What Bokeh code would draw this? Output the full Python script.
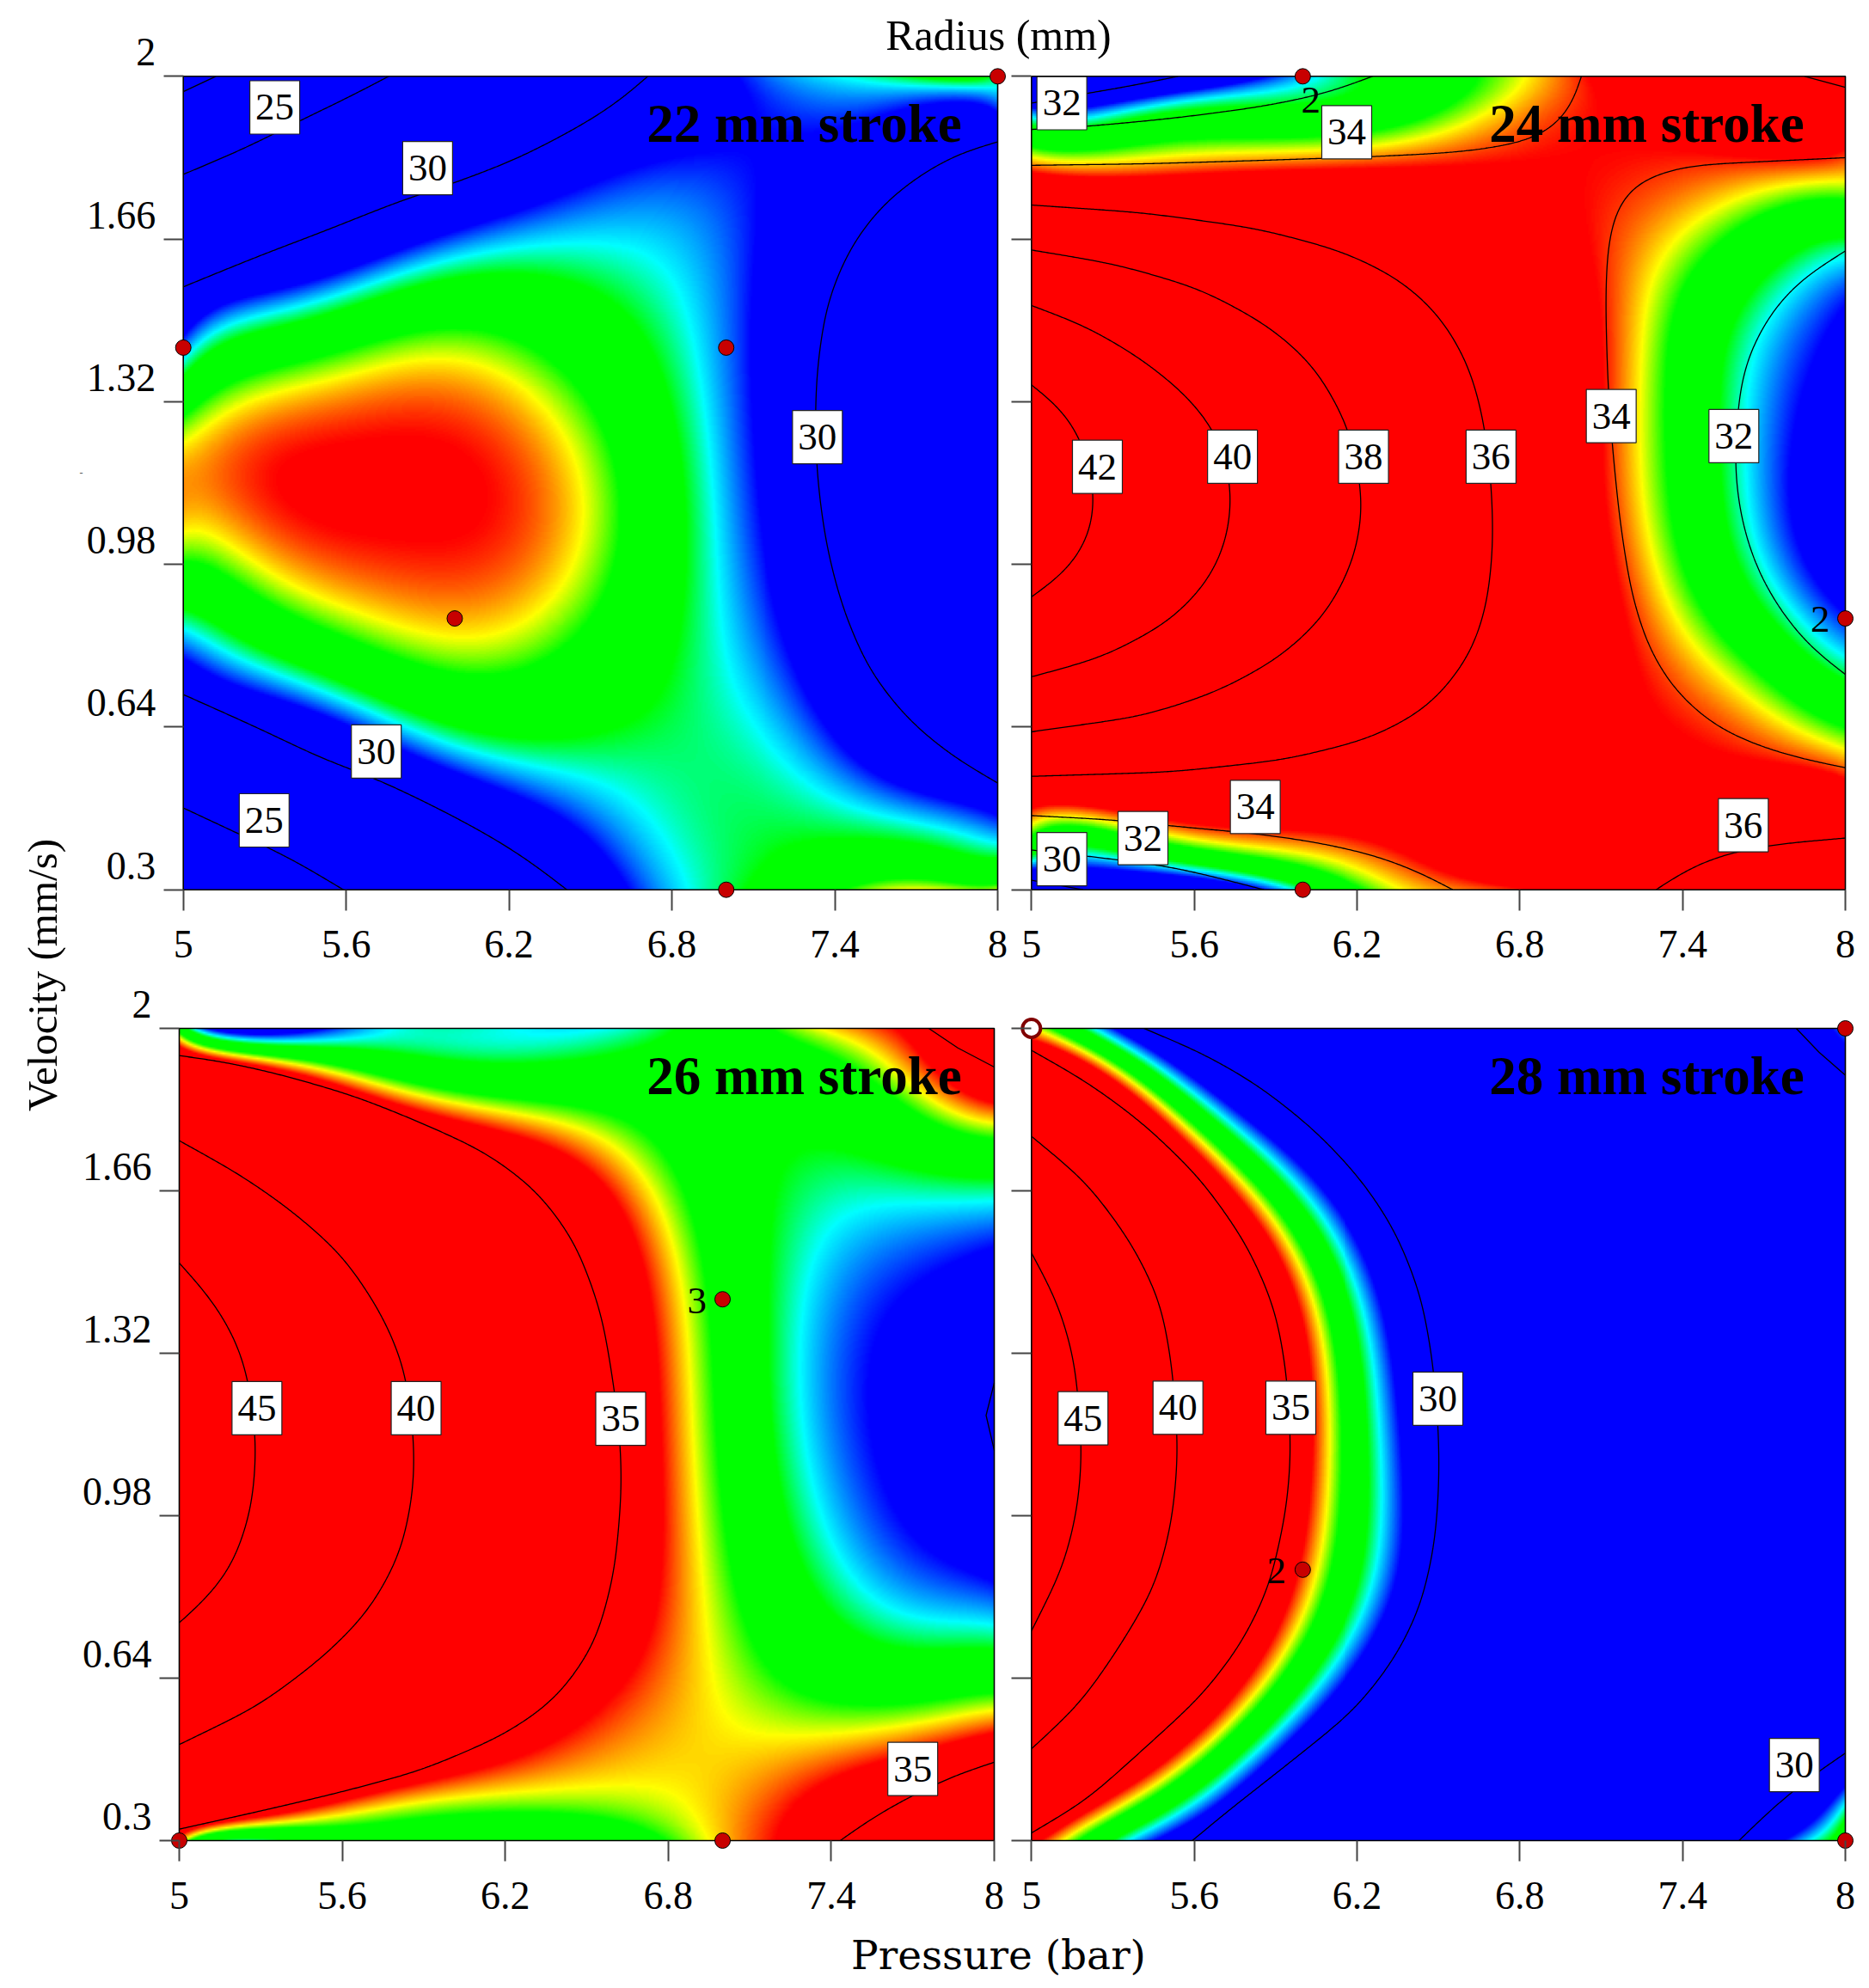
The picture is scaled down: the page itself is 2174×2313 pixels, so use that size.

import numpy as np
from bokeh.plotting import figure
from bokeh.models import LinearAxis, FixedTicker, Range1d, LinearColorMapper
from bokeh.embed import file_html
from bokeh.resources import INLINE
from bokeh.core.properties import value
from numpy.polynomial.legendre import legvander2d

# ---------- axis labels ----------
x_ticks = [5, 5.6, 6.2, 6.8, 7.4, 8]
x_labels = ["5", "5.6", "6.2", "6.8", "7.4", "8"]
y_ticks = [0.3, 0.64, 0.98, 1.32, 1.66, 2]
y_labels = ["0.3", "0.64", "0.98", "1.32", "1.66", "2"]
titles = ["22 mm stroke", "24 mm stroke", "26 mm stroke", "28 mm stroke"]

# ---------- response surfaces (mm), rows bottom to top ----------
grid_x = [5, 5.25, 5.5, 5.75, 6, 6.25, 6.5, 6.75, 7, 7.25, 7.5, 7.75, 8]
uniform_y = [0.3, 0.442, 0.583, 0.725, 0.867, 1.008, 1.15, 1.292, 1.433, 1.575, 1.717, 1.858, 2]

p1_y = uniform_y
p1_z = [
 [21.5,23,24.2,26.2,27.8,29,30.8,31.5,32.2,33,33.4,33.5,33.5],
 [24.5,25.9,27.4,29.1,30.2,31,31.6,32.2,32.3,32.3,32.1,31.95,31.65],
 [27.4,28.4,29.7,31.3,32,32.4,32.6,32.4,32.2,31.7,31,30.3,29.6],
 [30.2,31.6,32.1,32.5,33.1,33,32.85,32.5,32.2,31.5,30.4,29.5,29.2],
 [32.6,33.3,33.75,34,34.05,33.95,33.6,32.9,32.1,31.1,29.7,29,28.7],
 [33.8,34.05,34.3,34.45,34.42,34.1,33.7,32.9,32.1,30.8,29.6,28.8,28.4],
 [33.95,34.1,34.3,34.45,34.45,34.15,33.75,32.9,32,30.5,29.3,28.6,28.2],
 [33.6,33.95,34.1,34.2,34.15,34,33.6,32.8,31.9,30.5,29.2,28.4,28],
 [32,33.2,33.5,33.6,33.7,33.5,33.1,32.6,31.7,30.5,29.2,28.3,27.8],
 [29.7,30.9,31.5,31.9,32.2,32.4,32.4,32.1,31.5,30.9,29.4,28.5,28],
 [26.7,27.7,29,30.2,30.8,31.2,31.4,31.4,31.4,30.9,30.2,29.3,29],
 [23.5,25,26.8,27.9,28.7,29.6,30.4,30.9,31.1,31.1,30.8,30.4,30.05],
 [19.5,21,23,25,26.3,27.5,28.9,30.2,31.5,32,32.1,32.1,32.2],
]

p2_y = [0.3,0.35,0.4,0.442,0.5,0.583,0.725,0.867,1.008,1.15,1.292,1.433,1.575,1.7,1.8,1.85,1.9,1.95,2]
p2_z = [
 [29.4,30.3,30.9,31.7,32.6,33.6,33.9,34.8,35.4,35.9,36.6,37,37.3],
 [31,31.6,32,32.8,33.4,33.9,34.5,35.1,35.5,35.9,36.3,36.5,36.7],
 [32.5,33,33.3,33.7,34,34.4,34.7,35.1,35.4,35.6,35.8,36,36.1],
 [33.7,33.95,34.2,34.2,34.5,34.7,34.9,35.1,35.3,35.4,35.4,35.5,35.6],
 [35.1,35.1,35.2,35.1,35.1,35.1,35,35,35.1,35.1,35.2,35.2,35],
 [37,36.7,36.4,36.1,35.9,35.6,35.3,35.1,34.9,34.7,34.6,34,33.8],
 [39.7,39.3,38.9,38.1,37.4,36.8,35.9,35.3,34.9,34.4,33.6,32.8,32.1],
 [41.5,41,40.1,39.3,38.4,37.5,36.6,35.6,34.8,33.9,33,32.1,31],
 [42.9,41.9,40.8,39.9,38.9,37.9,37,35.8,34.9,33.8,32.8,31.4,30.2],
 [43.2,41.9,40.9,40,38.9,37.9,37,35.9,34.7,33.5,32.6,31.2,30],
 [42.6,41.5,40.4,39.3,38.5,37.7,36.9,35.7,34.6,33.4,32.7,31.4,30.2],
 [41.2,40.5,39.4,38.4,37.9,36.9,36.3,35.3,34.6,33.5,32.7,31.6,30.6],
 [39.1,38.6,38.2,37.3,36.6,36.4,35.6,35,34.5,33.5,32.7,32.1,31.2],
 [36.6,36.4,36.1,35.8,35.6,35.1,34.8,34.6,34.4,33.7,33.2,32.8,32.6],
 [34.3,34.3,34.4,34.4,34.4,34.4,34.5,34.6,34.6,34.2,33.85,33.7,33.5],
 [33.1,33.3,33.4,33.5,33.6,33.7,33.85,34.15,34.4,34.6,34.6,34.6,34.6],
 [31.7,32.1,32.5,32.8,33,33.3,33.5,33.9,34.4,34.8,35,35.2,35.3],
 [29.8,30.4,31.1,31.6,32,32.6,33.1,33.7,34.2,34.7,35.1,35.5,35.9],
 [28.3,29.2,29.9,30.8,31.7,32,32.9,33.6,34,34.8,35.3,35.8,36.4],
]

p3_y = [0.3,0.35,0.4,0.45,0.583,0.725,0.867,1.008,1.15,1.292,1.433,1.575,1.717,1.858,1.93,2]
p3_z = [
 [33.9,33.4,33.1,32.9,32.8,32.8,32.8,33,34,34.7,35.3,36.2,37.2],
 [36,35,34.3,33.8,33.5,33.3,33.4,33.5,34,34.6,35.2,35.8,36.6],
 [37.3,36.2,35.2,34.4,34,33.7,33.7,33.7,33.9,34.4,34.7,35,36],
 [38.5,37.2,36.2,35.4,34.8,34.2,33.9,33.8,33.8,33.95,34.2,34.7,35.2],
 [41.5,40,38.7,37.4,36.4,35.5,34.9,34.4,33.8,33.4,33.4,33.4,33.5],
 [44.5,42.6,40.7,39,37.6,36.4,35.3,34.7,33.9,33,32.3,32.2,32.2],
 [46.5,44.4,42.4,40.6,39,37.5,36,34.9,33.7,32.5,32,31.75,31.2],
 [47.7,45.6,43.4,41.4,39.5,37.9,36.4,34.9,33.5,32.2,31.4,30.6,30.3],
 [48,45.7,43.5,41.4,39.5,37.9,36.3,34.7,33.1,32.1,31.2,30.4,29.9],
 [47.5,45.1,42.8,40.7,39,37.6,36.1,34.6,32.9,32,31.3,30.7,30.3],
 [46,43.3,41.3,39.6,38,36.8,35.4,34.4,32.9,32.2,31.4,30.9,30.7],
 [43.7,41.8,40,38.6,37.1,36,34.8,33.6,32.8,32.2,31.9,31.6,31.6],
 [41,39.6,37.9,36.4,35.6,34.8,34.4,33,32.7,32.5,32.5,32.5,32.5],
 [37.4,36.8,35.6,34.4,33.2,32.9,32.8,32.7,32.8,32.9,33.1,33.6,34.2],
 [35.3,34.6,33.8,33,32.6,32.5,32.5,32.5,32.7,33.1,33.6,34.3,35.2],
 [33.2,32.7,32.4,32,32,32,32,32.4,32.6,33.3,34.2,35,37],
]

p4_y = uniform_y
p4_z = [
 [34.8,32.4,30.5,29,28,27.3,27,26.9,27,27.7,29,30.9,32.6],
 [38.9,35.8,33.2,31.2,29.4,28.1,27.2,26.8,26.6,26.9,27.6,29.1,30.9],
 [41.8,38.8,36.1,33.6,31.7,29.6,28.2,27.2,26.5,26.3,26.6,27.2,28.3],
 [44.8,41.4,38.2,35.3,33.1,31.1,29,27.5,26.5,25.9,25.5,25.5,25.9],
 [46.8,43,40,36.9,34,31.7,29.7,28.2,26.7,25.5,24.6,24.1,24.1],
 [48,43.9,40.4,37.4,34.5,32.1,30,28.2,26.6,25.2,24,23.4,23.4],
 [48.3,44.1,40.5,37.5,34.6,32.1,30,28.2,26.5,25,23.8,23.1,23.2],
 [47.6,43.8,40.2,37.2,34.5,32,29.8,28,26.4,24.9,23.8,23.1,23.3],
 [46.5,43,39.7,36.8,34.1,31.8,29.5,27.7,26,24.6,23.5,23.1,23.6],
 [44.1,41.3,38.3,35.1,32.9,31,28.9,27.1,25.5,24.2,23.5,23.5,24.5],
 [41.2,38.7,35.7,33,31.2,29.2,27.5,25.8,24.5,23.8,23.8,24.5,26.2],
 [37.7,35.3,32.9,30.7,29.2,27.7,26.2,25,24.4,24.5,25.2,26.5,28.9],
 [33.2,31.9,29.5,27.8,26.3,25,24,23.5,23.5,24.5,26.5,29.2,31.8],
]

# ---------- contour lines: (level, pressure list, velocity list) ----------
p1_contours = [
 (20,[5,5.12],[1.968,2]),
 (25,[5,5.23,5.446,5.613,5.757],[1.795,1.85,1.912,1.957,2]),
 (30,[5,5.28,5.518,5.804,5.995,6.234,6.473,6.616,6.711],[1.56,1.625,1.676,1.741,1.776,1.828,1.899,1.951,2]),
 (30,[5,5.28,5.518,5.709,5.947,6.138,6.282,6.413],[0.708,0.637,0.572,0.533,0.468,0.41,0.358,0.3]),
 (25,[5,5.23,5.399,5.59],[0.471,0.41,0.365,0.3]),
 (30,[8,7.857,7.714,7.57,7.451,7.368,7.332,7.327,7.337,7.368,7.427,7.523,7.666,7.833,8],
  [1.863,1.841,1.795,1.731,1.64,1.524,1.381,1.252,1.148,1.019,0.889,0.76,0.656,0.578,0.523]),
]
p2_contours = [
 (30,[5,5.2,5.37,5.54],[1.944,1.964,1.98,2]),
 (32,[5,5.203,5.519,5.835,6.089,6.257],[1.889,1.895,1.912,1.935,1.964,2]),
 (34,[5,5.414,5.835,6.257,6.574,6.785,6.911,6.985,7.017,7.027],[1.814,1.817,1.824,1.832,1.841,1.858,1.88,1.925,1.964,2]),
 (36,[7.85,8],[2,1.977]),
 (34,[8,7.41,7.23,7.167,7.13,7.119,7.116,7.125,7.141,7.167,7.21,7.273,7.368,7.516,7.674,7.833,8],
  [1.83,1.814,1.783,1.747,1.677,1.607,1.518,1.35,1.227,1.077,0.919,0.804,0.716,0.641,0.601,0.574,0.555]),
 (32,[8,7.833,7.727,7.642,7.61,7.59,7.61,7.664,7.748,7.864,8],
  [1.635,1.576,1.51,1.421,1.35,1.192,1.086,0.98,0.892,0.808,0.75]),
 (36,[5,5.414,5.835,6.152,6.363,6.511,6.616,6.669,6.696,6.703,6.679,6.616,6.468,6.257,5.941,5.519,5],
  [1.731,1.715,1.682,1.634,1.575,1.498,1.394,1.278,1.148,1.019,0.889,0.786,0.682,0.617,0.572,0.546,0.537]),
 (38,[5,5.308,5.624,5.878,6.046,6.173,6.226,6.194,6.089,5.92,5.688,5.414,5],
  [1.637,1.608,1.556,1.478,1.394,1.265,1.109,0.993,0.876,0.786,0.714,0.663,0.63]),
 (40,[5,5.203,5.414,5.582,5.688,5.741,5.73,5.667,5.519,5.266,5],
  [1.521,1.478,1.407,1.329,1.252,1.148,1.045,0.954,0.863,0.786,0.745]),
 (42,[5,5.097,5.181,5.238,5.224,5.139,5],[1.355,1.316,1.252,1.135,1.045,0.967,0.912]),
 (34,[5,5.308,5.519,5.835,6.046,6.257,6.426,6.553],[0.455,0.446,0.433,0.417,0.4,0.374,0.339,0.3]),
 (32,[5,5.2,5.32,5.5,5.688,5.857],[0.383,0.371,0.362,0.35,0.325,0.3]),
 (30,[5,5.19],[0.32,0.3]),
 (36,[7.302,7.418,7.544,7.734,8],[0.3,0.345,0.374,0.395,0.408]),
]
p3_contours = [
 (35,[5,5.293,5.579,5.889,6.198,6.389,6.532,6.603,6.63,6.623,6.603,6.556,6.46,6.318,6.127,5.889,5.65,5.365,5.15,5],
  [0.324,0.361,0.399,0.446,0.521,0.596,0.711,0.86,1.037,1.145,1.24,1.403,1.552,1.661,1.742,1.803,1.858,1.905,1.932,1.943]),
 (40,[5,5.222,5.412,5.603,5.746,5.829,5.865,5.865,5.817,5.698,5.531,5.293,5],
  [1.765,1.695,1.62,1.525,1.403,1.294,1.145,1.037,0.901,0.779,0.684,0.582,0.501]),
 (45,[5,5.126,5.222,5.257,5.286,5.269,5.198,5.102,5],[1.509,1.43,1.335,1.26,1.132,0.996,0.874,0.806,0.756]),
 (35,[7.759,7.866,8],[2,1.959,1.919]),
 (35,[7.433,7.557,7.723,7.866,8],[0.3,0.351,0.402,0.44,0.464]),
 (30,[8,7.97,8],[1.258,1.19,1.117]),
]
p4_contours = [
 (30,[5.414,5.625,5.835,6.046,6.215,6.342,6.437,6.479,6.5,6.504,6.489,6.437,6.342,6.194,6.046,5.878,5.73,5.593],
  [2,1.95,1.882,1.787,1.685,1.577,1.441,1.306,1.17,1.062,0.926,0.791,0.682,0.574,0.506,0.43,0.365,0.3]),
 (35,[5,5.203,5.414,5.625,5.793,5.899,5.941,5.958,5.941,5.878,5.772,5.625,5.414,5.203,5],
  [1.954,1.889,1.801,1.685,1.55,1.414,1.279,1.116,0.994,0.831,0.709,0.601,0.492,0.384,0.316]),
 (40,[5,5.203,5.371,5.477,5.519,5.542,5.519,5.456,5.329,5.181,5],
  [1.774,1.679,1.55,1.428,1.292,1.116,0.967,0.831,0.709,0.587,0.492]),
 (45,[5,5.097,5.16,5.188,5.171,5.118,5],[1.53,1.428,1.306,1.116,0.994,0.872,0.739]),
 (30,[7.819,7.903,8],[2,1.95,1.902]),
 (30,[7.608,7.734,7.882,8],[0.3,0.37,0.438,0.483]),
]

# ---------- colour-band edges: (response at that colour, pressure, velocity) ----------
BLUE, CYAN, GREEN_LO, GREEN_HI, YELLOW, ORANGE, RED = 31.3, 32.0, 32.4, 33.4, 33.8, 34.1, 34.4
p1_bands = [
 (RED,[5.423,5.529,5.739,5.909,6.004,5.951,5.739,5.529],[1.123,1.212,1.242,1.212,1.141,1.045,1.015,1.057]),
 (ORANGE,[5.19,5.318,5.634,5.899,6.163,6.3,6.331,6.268,6.11,5.846,5.529,5.296],
  [1.14,1.248,1.332,1.341,1.279,1.177,1.087,0.986,0.919,0.914,0.961,1.04]),
 (YELLOW,[5,5,5.212,5.529,5.899,6.163,6.321,6.426,6.463,6.447,6.384,6.247,6.056,5.846,5.529,5.318,5.106],
  [1.237,1.063,1.327,1.386,1.404,1.386,1.327,1.237,1.117,0.997,0.919,0.853,0.832,0.853,0.901,0.949,1.021]),
 (GREEN_HI,[5,5.265,5.634,5.951,6.162,6.32,6.479,6.553,6.578,6.562,6.479,6.32,6.056,5.634,5.318,5],
  [1.284,1.374,1.434,1.455,1.446,1.41,1.338,1.237,1.117,0.968,0.847,0.775,0.772,0.83,0.901,0.986]),
 (GREEN_LO,[5,5.318,5.634,5,5.423],[0.889,0.806,0.716,1.374,1.476]),
 (GREEN_LO,[6.543,6.679,6.754,6.79,6.807,6.754,6.649,6.544],[1.551,1.462,1.342,1.198,0.902,0.733,0.673,0.644]),
 (GREEN_LO,[7.103,7.23,7.493,7.81,7.993],[0.332,0.387,0.404,0.38,0.357]),
 (GREEN_HI,[7.472,7.704,7.993],[0.302,0.319,0.31]),
 (CYAN,[5.054,5.212,5.529,5.127],[0.835,0.794,0.71,1.47]),
 (CYAN,[6.543,6.67,6.786,6.86,6.913,6.955,7.008,7.06,7.113,7.198,7.335,7.547,7.81,7.993],
  [1.641,1.629,1.569,1.492,1.372,1.205,0.902,0.72,0.638,0.56,0.507,0.465,0.428,0.404]),
 (CYAN,[6.558,6.694,6.797,6.861],[0.494,0.447,0.386,0.302]),
 (CYAN,[7.6,7.704,7.99],[1.986,1.982,1.98]),
 (BLUE,[5,5.212,6.558,6.628],[0.775,0.71,0.386,0.302]),
 (BLUE,[7.99,7.6,7.28,7.176,7.124,7.103,7.097,7.118,7.186,7.23,7.335,7.493,7.704,7.993,7.05],
  [1.929,1.923,1.881,1.851,1.803,1.641,1.462,1.252,0.902,0.781,0.662,0.566,0.5,0.458,1.995]),
 (BLUE,[6.543,6.754,6.964],[1.797,1.821,1.845]),
]
p2_bands = [
 (RED,[7.03,7.083,7.094,7.125,7.198,7.347,7.622,8,8,7.516,7.178,6.998],
  [1.668,1.43,1.165,0.989,0.813,0.662,0.565,0.521,1.859,1.845,1.818,1.765]),
 (RED,[5,5.5,6,6.3,6.55],[0.472,0.45,0.42,0.385,0.33]),
 (RED,[5,5.8,6.5,6.9,7.1],[1.8,1.81,1.825,1.85,1.93]),
 (YELLOW,[8,7.622,7.431,7.337,7.284,7.257,7.262,7.284,7.337,7.431,7.569,7.727,8],
  [1.774,1.739,1.677,1.616,1.518,1.386,1.236,1.077,0.936,0.83,0.733,0.68,0.601]),
 (GREEN_HI,[8,7.622,7.474,7.4,7.352,7.337,7.363,7.431,7.547,7.727,8],
  [1.748,1.704,1.642,1.562,1.448,1.271,1.095,0.936,0.821,0.724,0.636]),
 (GREEN_LO,[8,7.727,7.622,7.547,7.505,7.505,7.547,7.653,7.801,8],
  [1.673,1.616,1.545,1.457,1.307,1.183,1.024,0.892,0.804,0.724]),
 (CYAN,[7.939,7.801,7.695,7.653,7.642,7.674,7.758,7.896,8],[1.598,1.518,1.421,1.307,1.165,1.059,0.945,0.848,0.795]),
 (BLUE,[8,7.896,7.822,7.796,7.833,7.917,8],[1.518,1.448,1.324,1.165,1.024,0.919,0.874]),
 (YELLOW,[5,5.624,6.152,6.468,6.679,6.785,6.816],[1.834,1.841,1.85,1.873,1.938,1.99,2]),
 (YELLOW,[5,5.519,5.941,6.215,6.384],[0.436,0.408,0.382,0.348,0.3]),
 (BLUE,[5.203,5.519,5.835],[1.938,1.964,1.996]),
 (GREEN_HI,[5,5.624,6.152,6.468,6.637,6.69],[1.847,1.854,1.871,1.905,1.964,2]),
 (GREEN_LO,[5,5.414,5.835,6.152,6.236],[1.905,1.925,1.951,1.99,2]),
 (GREEN_HI,[5,5.519,5.941,6.152,6.215],[0.41,0.387,0.352,0.319,0.3]),
 (GREEN_LO,[5.519,5.941,6.025],[0.365,0.319,0.3]),
]
p3_bands = [
 (YELLOW,[5,5.293,5.77,6.246,6.604,6.794,6.878,6.913,6.937,6.961,6.985,6.973,6.961],
  [1.98,1.936,1.878,1.817,1.742,1.634,1.512,1.308,1.037,0.833,0.63,0.494,0.3]),
 (RED,[5.293,5.77,6.246],[1.925,1.855,1.77]),
 (GREEN_HI,[5.293,5.77,6.246,6.604,6.83,6.9,6.95,6.97,7.0],[1.945,1.89,1.835,1.77,1.65,1.53,1.31,1.04,0.83]),
 (GREEN_LO,[5.6,6.1,6.6],[1.96,1.94,1.95]),
 (YELLOW,[5.293,5.77,6.246,6.604,6.842],[0.334,0.372,0.402,0.41,0.399]),
 (YELLOW,[7.063,7.38,7.696,7.997,7.366,7.604,7.78,7.98],[0.527,0.516,0.546,0.573,2,1.946,1.849,1.8]),
 (RED,[6.77,6.72,6.484,6.72,6.604,6.246,5.531,7.2,7.326,7.506,7.801,7.997],
  [1.037,1.444,1.783,0.765,0.602,0.48,0.372,0.305,0.392,0.453,0.492,0.523]),
 (GREEN_HI,[7.063,7.116,7.2,7.358,7.538,7.801,7.997,7.601,7.8,7.99],[0.815,0.687,0.627,0.59,0.583,0.593,0.61,1.849,1.813,1.772]),
 (GREEN_LO,[7.34,7.655,7.99,7.149,7.137,7.127,7.136,7.168,7.2,7.274,7.38,7.538,7.749,7.997],
  [1.746,1.735,1.7,1.693,1.549,1.369,1.345,1.144,1.01,0.862,0.768,0.708,0.684,0.681]),
 (CYAN,[7.99,7.655,7.528,7.443,7.38,7.338,7.307,7.29,7.326,7.369,7.433,7.516,7.654,7.833,7.997],
  [1.639,1.633,1.615,1.579,1.531,1.459,1.369,1.345,1.144,1.016,0.922,0.849,0.788,0.761,0.755]),
 (CYAN,[5.77,6.1,6.4,6.6],[2,2,2,2]),
 (BLUE,[7.99,7.813,7.687,7.61,7.56,7.538,7.57,7.633,7.738,7.886,7.997],
  [1.531,1.502,1.453,1.399,1.333,1.345,1.077,0.989,0.915,0.868,0.849]),
]
p4_bands = [
 (YELLOW,[6.089,6.068,5.962,5.73,5.414,5.076,6.068,5.983,5.793,5.477,5.16],
  [1.197,1.36,1.536,1.713,1.875,1.984,0.899,0.764,0.587,0.425,0.316]),
 (CYAN,[6.289,6.257,6.152,5.835,5.519,5.266,6.278,6.173,5.962,5.688,5.371,7.945,8],
  [1.116,1.333,1.509,1.74,1.889,1.99,0.899,0.723,0.56,0.411,0.309,0.33,0.377]),
 (BLUE,[6.363,6.321,6.046,5.625,6.342,6.046,5.477,7.776,8],[1.116,1.306,1.685,1.889,0.831,0.56,0.3,0.3,0.41]),
]

# ---------- contour labels: pressure, velocity, text ----------
p1_lx = [5.337,5.9,7.336,5.711,5.298]
p1_ly = [1.935,1.808,1.246,0.589,0.445]
p1_lt = ["25","30","30","30","25"]
p2_lx = [5.112,6.162,5.243,5.741,6.224,6.694,7.137,7.589,5.825,5.411,5.112,7.624]
p2_ly = [1.944,1.883,1.184,1.205,1.205,1.205,1.29,1.248,0.473,0.408,0.364,0.435]
p2_lt = ["32","34","42","40","38","36","34","32","34","32","30","36"]
p3_lx = [5.286,5.872,6.625,7.7]
p3_ly = [1.205,1.205,1.183,0.45]
p3_lt = ["45","40","35","35"]
p4_lx = [5.19,5.54,5.956,6.498,7.812]
p4_ly = [1.184,1.206,1.206,1.225,0.458]
p4_lt = ["45","40","35","30","30"]

# ---------- design points and replicate counts ----------
p1_px = [8,5,7,6,7]; p1_py = [2,1.433,1.433,0.867,0.3]
p2_px = [6,6,8];     p2_py = [2,0.3,0.867]
p3_px = [7,7,5];     p3_py = [1.433,0.3,0.3]
p4_px = [8,8,6];     p4_py = [2,0.3,0.867]
open_px = [5]; open_py = [2]
p2_rx = [6.03,7.907]; p2_ry = [1.951,0.866]; p2_rt = ["2","2"]
p3_rx = [6.906]; p3_ry = [1.43]; p3_rt = ["3"]
p4_rx = [5.903]; p4_ry = [0.865]; p4_rt = ["2"]

# ---------- styling and layout ----------
W, H = 2166, 2306
SERIF = "Liberation Serif"
BOXES = [(212.7,1160,88.3,1034.7),(1199.3,2146,88.3,1034.7),(208,1156,1196,2141),(1199.3,2146,1196,2141)]
TITLE_POS = [(935,143),(1915,143),(935,1251),(1915,1251)]
Y_SHIFT = 28
LOW, HIGH = 31.3, 34.4
DEGREES = [(8,8),(7,10),(7,8),(6,8)]

def make_palette():
    stops = [0,0.22,0.36,0.66,0.80,1]
    rs = [0,0,0,0,255,255]; gs = [0,255,255,255,255,0]; bs = [255,255,0,0,0,0]
    t = np.linspace(0,1,256)
    return ["#%02x%02x%02x"%(int(r),int(g),int(b)) for r,g,b in zip(np.interp(t,stops,rs),np.interp(t,stops,gs),np.interp(t,stops,bs))]

def to_u(x): return (np.asarray(x,float)-6.5)/1.5
def to_v(y): return (np.asarray(y,float)-1.15)/0.85

def render_surface(ys, z, contours, bands, degree):
    gx,gy = np.meshgrid(grid_x,ys)
    X=[gx.ravel()]; Y=[gy.ravel()]; V=[np.asarray(z,float).ravel()]; Wt=[np.full(gx.size,0.5)]
    for lev,cx,cy in contours:
        X.append(np.asarray(cx,float)); Y.append(np.asarray(cy,float)); V.append(np.full(len(cx),float(lev))); Wt.append(np.full(len(cx),1.5))
    for lev,cx,cy in bands:
        X.append(np.asarray(cx,float)); Y.append(np.asarray(cy,float)); V.append(np.full(len(cx),float(lev))); Wt.append(np.full(len(cx),6.0))
    X,Y,V,Wt = map(np.concatenate,(X,Y,V,Wt))
    A = legvander2d(to_u(X),to_v(Y),list(degree))
    coef = np.linalg.lstsq(A*Wt[:,None],V*Wt,rcond=None)[0]
    qx,qy = np.meshgrid(np.linspace(5,8,474),np.linspace(0.3,2,473))
    B = legvander2d(to_u(qx.ravel()),to_v(qy.ravel()),list(degree))
    return (B@coef).reshape(qx.shape)

def smooth_line(px, py, sigma=0.03):
    """Round the small kinks of a hand-read polyline; end points stay where they were read."""
    px = np.asarray(px,float); py = np.asarray(py,float)
    if len(px) < 4:
        return px, py
    t = np.r_[0,np.cumsum(np.hypot(np.diff(px)/3,np.diff(py)/1.7))]
    q = np.arange(0,t[-1],0.002); q = np.r_[q,t[-1]]
    x = np.interp(q,t,px); y = np.interp(q,t,py)
    s = min(sigma,t[-1]/6)/0.002
    half = int(3*s)+1
    k = np.exp(-0.5*(np.arange(-half,half+1)/s)**2); k /= k.sum()
    def blur(a):
        n = min(half,len(a)-1)
        left = 2*a[0]-a[1:n+1][::-1]; right = 2*a[-1]-a[-n-1:-1][::-1]
        pad = half-n
        b = np.r_[np.full(pad,left[0] if n else a[0]),left,a,right,np.full(pad,right[-1] if n else a[-1])]
        return np.convolve(b,k,mode="valid")
    return np.clip(blur(x),5,8), np.clip(blur(y),0.3,2)

p = figure(width=W,height=H,output_backend="svg",toolbar_location=None,
           x_range=Range1d(0,W),y_range=Range1d(H,0),
           x_axis_location=None,y_axis_location=None,min_border=0,outline_line_color=None)
p.grid.visible = False
mapper = LinearColorMapper(palette=make_palette(),low=LOW,high=HIGH)

panels = [
 (p1_y,p1_z,p1_contours,p1_bands,p1_lx,p1_ly,p1_lt,p1_px,p1_py,[],[],[]),
 (p2_y,p2_z,p2_contours,p2_bands,p2_lx,p2_ly,p2_lt,p2_px,p2_py,p2_rx,p2_ry,p2_rt),
 (p3_y,p3_z,p3_contours,p3_bands,p3_lx,p3_ly,p3_lt,p3_px,p3_py,p3_rx,p3_ry,p3_rt),
 (p4_y,p4_z,p4_contours,p4_bands,p4_lx,p4_ly,p4_lt,p4_px,p4_py,p4_rx,p4_ry,p4_rt),
]

for i,(ys,z,contours,bands,lx,ly,lt,mx,my,rx,ry,rt) in enumerate(panels):
    L,R,T,B = BOXES[i]
    sx = (R-L)/3; sy = (B-T)/1.7
    x0 = 5-L/sx; y1 = 2+T/sy
    xn,yn,yl = f"x{i}",f"y{i}",f"yl{i}"
    p.extra_x_ranges[xn] = Range1d(x0,x0+W/sx)
    p.extra_y_ranges[yn] = Range1d(y1-H/sy,y1)
    p.extra_y_ranges[yl] = Range1d(y1-H/sy-Y_SHIFT/sy,y1-Y_SHIFT/sy)
    kw = dict(x_range_name=xn,y_range_name=yn)

    p.image(image=[render_surface(ys,z,contours,bands,DEGREES[i])],x=5,y=0.3,dw=3,dh=1.7,color_mapper=mapper,**kw)
    for lev,cx,cy in contours:
        a,b = smooth_line(cx,cy)
        p.line(a,b,line_color="black",line_width=1.3,**kw)
    p.rect(lx,ly,width=58,height=62,width_units="screen",height_units="screen",
           fill_color="white",line_color="#222222",line_width=1.2,**kw)
    p.text(lx,ly,text=lt,text_font=value(SERIF),text_font_size="45px",text_color="black",
           text_align="center",text_baseline="middle",**kw)
    if rt:
        p.text(rx,ry,text=rt,text_font=value(SERIF),text_font_size="45px",text_color="black",
               text_align="center",text_baseline="middle",**kw)
    p.quad(left=[5],right=[8],bottom=[0.3],top=[2],fill_alpha=0,line_color="black",line_width=1.6,**kw)
    p.scatter(mx,my,size=18,fill_color="#c80000",line_color="black",line_width=1,**kw)
    if i == 3:
        p.scatter(open_px,open_py,size=21,fill_color="white",line_color="#800000",line_width=4,**kw)

    xa = LinearAxis(fixed_location=0.3,ticker=FixedTicker(ticks=x_ticks),
                    major_label_overrides=dict(zip(x_ticks,x_labels)),
                    major_tick_in=0,major_tick_out=24,minor_tick_out=0,minor_tick_in=0,
                    major_tick_line_color="#444444",major_tick_line_width=2,axis_line_color=None,
                    major_label_standoff=24,major_label_text_font=SERIF,major_label_text_font_size="46px",
                    major_label_text_color="black",x_range_name=xn,y_range_name=yn)
    p.add_layout(xa,"below")
    ya = LinearAxis(fixed_location=5,ticker=FixedTicker(ticks=y_ticks),
                    major_label_overrides={t:"" for t in y_ticks},
                    major_tick_in=0,major_tick_out=23,minor_tick_out=0,minor_tick_in=0,
                    major_tick_line_color="#444444",major_tick_line_width=2,axis_line_color=None,
                    x_range_name=xn,y_range_name=yn)
    p.add_layout(ya,"left")
    if i in (0,2):
        yb = LinearAxis(fixed_location=5,ticker=FixedTicker(ticks=y_ticks),
                        major_label_overrides=dict(zip(y_ticks,y_labels)),
                        major_tick_in=0,major_tick_out=0,minor_tick_out=0,minor_tick_in=0,
                        major_tick_line_color=None,axis_line_color=None,
                        major_label_standoff=32,major_label_text_font=SERIF,major_label_text_font_size="46px",
                        major_label_text_color="black",x_range_name=xn,y_range_name=yl)
        p.add_layout(yb,"left")
    tx,ty = TITLE_POS[i]
    p.text([tx],[ty],text=[titles[i]],text_font=value(SERIF),text_font_size="63px",text_font_style="bold",
           text_color="black",text_align="center",text_baseline="middle")

p.text([1161],[40],text=["Radius (mm)"],text_font=value(SERIF),text_font_size="50px",text_color="black",
       text_align="center",text_baseline="middle")
p.text([1161],[2274],text=["Pressure (bar)"],text_font=value("DejaVu Serif"),text_font_size="47px",text_color="black",
       text_align="center",text_baseline="middle")
p.text([49],[1134],text=["Velocity (mm/s)"],angle=[np.pi/2],text_font=value(SERIF),text_font_size="49px",text_color="black",
       text_align="center",text_baseline="middle")
p.text([94],[549],text=["-"],text_font=value(SERIF),text_font_size="12px",text_color="#555555",
       text_align="center",text_baseline="middle")

open("out.html","w").write(file_html(p,INLINE))
